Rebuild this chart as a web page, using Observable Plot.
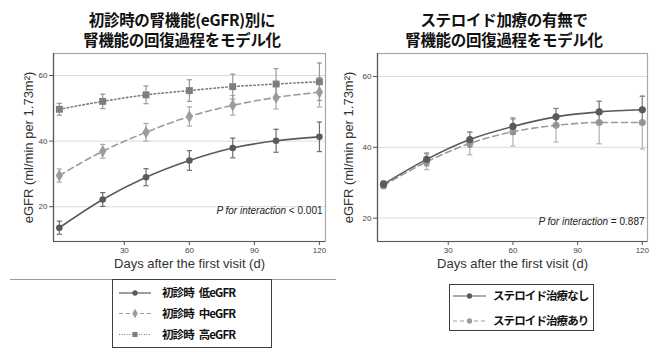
<!DOCTYPE html>
<html><head><meta charset="utf-8">
<script src="https://cdn.jsdelivr.net/npm/d3@7"></script>
<script src="https://cdn.jsdelivr.net/npm/@observablehq/plot@0.6"></script>
<style>
body{margin:0;background:#fff;}
#root{position:relative;width:667px;height:358px;overflow:hidden;background:#fff;}
.title{position:absolute;top:9px;width:300px;text-align:center;font-family:"Noto Sans CJK JP",sans-serif;font-weight:700;font-size:15.5px;line-height:20px;color:#111;letter-spacing:-0.3px;white-space:nowrap;}
.title div{height:20px;line-height:20px;}
.panel{position:absolute;top:45px;}
.panel g[aria-label="x-axis label"] text, .panel g[aria-label="y-axis label"] text{font-size:13px;fill:#333;}
.sep{position:absolute;left:10px;top:279px;width:326px;height:1px;background:#9a9a9a;}
.legend{position:absolute;}
</style>
</head><body>
<div id="root">
  <div class="title" id="t1" style="left:32px"></div>
  <div class="title" id="t2" style="left:354px"></div>
  <div class="panel" id="p1" style="left:0px"></div>
  <div class="panel" id="p2" style="left:335px"></div>
  <div class="sep"></div>
  <div class="legend" id="l1" style="left:112px;top:279px"></div>
  <div class="legend" id="l2" style="left:449px;top:284px"></div>
</div>
<script>
// ---------- data ----------
const titleLeft = ["初診時の腎機能(eGFR)別に", "腎機能の回復過程をモデル化"];
const titleRight = ["ステロイド加療の有無で", "腎機能の回復過程をモデル化"];
const days = [0, 20, 40, 60, 80, 100, 120];
const xTicks = [30, 60, 90, 120];
const yTicks = [20, 40, 60];
const xLabel = "Days after the first visit (d)";
const yLabel = "eGFR (ml/min per 1.73m²)";
const pLabel = "P for interaction";
const pLeft = "< 0.001";
const pRight = "= 0.887";

// left panel: baseline eGFR groups
const lowEGFR  = [13.6, 22.2, 29.0, 34.1, 37.9, 40.1, 41.3];
const lowErr   = [2.0, 2.1, 2.6, 3.0, 3.0, 3.5, 4.5];
const midEGFR  = [29.5, 36.9, 42.7, 47.5, 50.9, 53.3, 54.9];
const midErr   = [2.0, 2.1, 2.7, 2.9, 3.0, 3.5, 4.5];
const highEGFR = [49.7, 52.1, 54.1, 55.4, 56.6, 57.4, 58.1];
const highErr  = [1.8, 2.2, 2.7, 3.3, 3.8, 4.7, 5.7];
const leftLegend = ["初診時\u2002低eGFR", "初診時\u2002中eGFR", "初診時\u2002高eGFR"];

// right panel: steroid therapy
const noSteroid    = [29.6, 36.6, 42.2, 45.9, 48.6, 50.0, 50.6];
const noSteroidErr = [0.9, 1.8, 2.1, 2.1, 2.4, 3.0, 3.8];
const steroid      = [29.2, 35.9, 41.1, 44.4, 46.2, 47.0, 47.0];
const steroidErr   = [0.9, 2.2, 3.2, 4.0, 4.7, 6.0, 7.5];
const rightLegend = ["ステロイド治療なし", "ステロイド治療あり"];

// ---------- helpers ----------
for (const [id, lines] of [["#t1", titleLeft], ["#t2", titleRight]]) {
  d3.select(id).selectAll("div").data(lines).join("div").text(d => d);
}

const rows = (vals, errs) => days.map((d, i) => ({day: d, v: vals[i], e: errs[i]}));
const cap = {draw(ctx, size) { const w = Math.sqrt(size / Math.PI); ctx.moveTo(-w, 0); ctx.lineTo(w, 0); }};

function seriesMarks(data, s) {
  return [
    Plot.ruleX(data, {x: "day", y1: d => d.v - d.e, y2: d => d.v + d.e, stroke: s.err, strokeWidth: 1.2}),
    Plot.dot(data, {x: "day", y: d => d.v - d.e, symbol: cap, r: 2.6, stroke: s.err, strokeWidth: 1.2}),
    Plot.dot(data, {x: "day", y: d => d.v + d.e, symbol: cap, r: 2.6, stroke: s.err, strokeWidth: 1.2}),
    Plot.line(data, {x: "day", y: "v", stroke: s.color, strokeWidth: 1.6, strokeDasharray: s.dash, curve: "monotone-x"}),
    Plot.dot(data, {x: "day", y: "v", symbol: s.symbol, r: s.r, fill: s.color, stroke: "none"})
  ];
}

function panel(opts) {
  const {xDomain, yDomain, series, width, ml, mr, pValue, pDy, ylo} = opts;
  return Plot.plot({
    width, height: 231, marginTop: 8, marginBottom: 35, marginLeft: ml, marginRight: mr,
    style: {fontFamily: "Liberation Sans, Arial, sans-serif", fontSize: "8px", color: "#444", background: "transparent", overflow: "visible"},
    x: {domain: xDomain},
    y: {domain: yDomain},
    marks: [
      Plot.gridY(yTicks, {stroke: "#dcdcdc", strokeOpacity: 1, strokeWidth: 1}),
      Plot.frame({stroke: "#a8a8a8", strokeWidth: 1.2}),
      Plot.ruleX([xDomain[0]], {stroke: "#555", strokeWidth: 1.2}),
      Plot.ruleY([yDomain[0]], {stroke: "#555", strokeWidth: 1.2}),
      Plot.axisY(yTicks, {tickSize: 4, tickPadding: 2, fontSize: 8, label: yLabel, labelArrow: "none", labelAnchor: "center", labelOffset: ylo, stroke: "#555"}),
      Plot.axisX(xTicks, {tickSize: 4, tickPadding: 2, fontSize: 8, label: xLabel, labelArrow: "none", labelAnchor: "center", labelOffset: 26, stroke: "#555"}),
      ...series.flatMap(s => seriesMarks(s.data, s)),
      Plot.text([pLabel + " " + pValue], {frameAnchor: "bottom-right", dx: -3, dy: pDy, fontSize: 10, fill: "#222", textAnchor: "end"})
    ]
  });
}

const sLow  = {data: rows(lowEGFR, lowErr),   color: "#5a5a5a", err: "#6e6e6e", dash: null,    symbol: "circle",  r: 3.3};
const sMid  = {data: rows(midEGFR, midErr),   color: "#9c9c9c", err: "#a8a8a8", dash: "6,4",   symbol: "diamond", r: 3.8};
const sHigh = {data: rows(highEGFR, highErr), color: "#7e7e7e", err: "#999",    dash: "1.5,2.5", symbol: "square", r: 3.9};
const sNo   = {data: rows(noSteroid, noSteroidErr), color: "#5a5a5a", err: "#8a8a8a", dash: null,  symbol: "circle", r: 3.6};
const sYes  = {data: rows(steroid, steroidErr),     color: "#9c9c9c", err: "#b0b0b0", dash: "6,4", symbol: "circle", r: 3.6};

const p1 = panel({xDomain: [-2.7, 122.8], yDomain: [9.4, 66.7], series: [sLow, sMid, sHigh], width: 335, ml: 53, mr: 10, pValue: pLeft, pDy: -28, ylo: 30});
const p2 = panel({xDomain: [-2.8, 122.4], yDomain: [13.4, 66.5], series: [sYes, sNo], width: 332, ml: 42, mr: 20, pValue: pRight, pDy: -17, ylo: 34});
document.getElementById("p1").append(p1);
document.getElementById("p2").append(p2);

// italic "P for interaction"
for (const svg of [p1, p2]) {
  d3.select(svg).selectAll("text").filter(function() { return this.textContent.startsWith(pLabel); }).each(function() {
    const rest = this.textContent.slice(pLabel.length);
    const t = d3.select(this); t.text("");
    t.append("tspan").attr("font-style", "italic").text(pLabel);
    t.append("tspan").text(rest);
  });
}

// ---------- legends ----------
function legend(el, labels, series, w, h, rowYs, sx0, sx1, tx) {
  const svg = d3.select(el).append("svg").attr("width", w).attr("height", h).style("display", "block");
  svg.append("rect").attr("x", 0.5).attr("y", 0.5).attr("width", w - 1).attr("height", h - 1).attr("fill", "#fff").attr("stroke", "#3a3f44").attr("stroke-width", 1);
  labels.forEach((lab, i) => {
    const s = series[i], y = rowYs[i];
    svg.append("line").attr("x1", sx0).attr("x2", sx1).attr("y1", y).attr("y2", y).attr("stroke", s.color).attr("stroke-width", 1.2).attr("stroke-dasharray", s.dash ? (s.dash === "6,4" ? "4,3" : "1,1.5") : null);
    const sym = s.symbol === "square" ? d3.symbolSquare : s.symbol === "diamond" ? d3.symbolDiamond : d3.symbolCircle;
    svg.append("path").attr("d", d3.symbol(sym, s.symbol === "circle" ? 22 : 26)()).attr("transform", `translate(${(sx0 + sx1) / 2},${y})`).attr("fill", s.color);
    svg.append("text").attr("x", tx).attr("y", y).attr("dy", "0.36em").attr("font-family", "Noto Sans CJK JP, sans-serif").attr("font-weight", 700).attr("font-size", 11.5).attr("letter-spacing", "-0.9px").attr("fill", "#111").text(lab);
  });
}
legend(document.getElementById("l1"), leftLegend, [sLow, sMid, sHigh], 160, 69, [14, 34.5, 55.5], 7, 39, 50);
legend(document.getElementById("l2"), rightLegend, [sNo, sYes], 145, 47, [12, 37], 4, 37, 44);
</script>
</body></html>
